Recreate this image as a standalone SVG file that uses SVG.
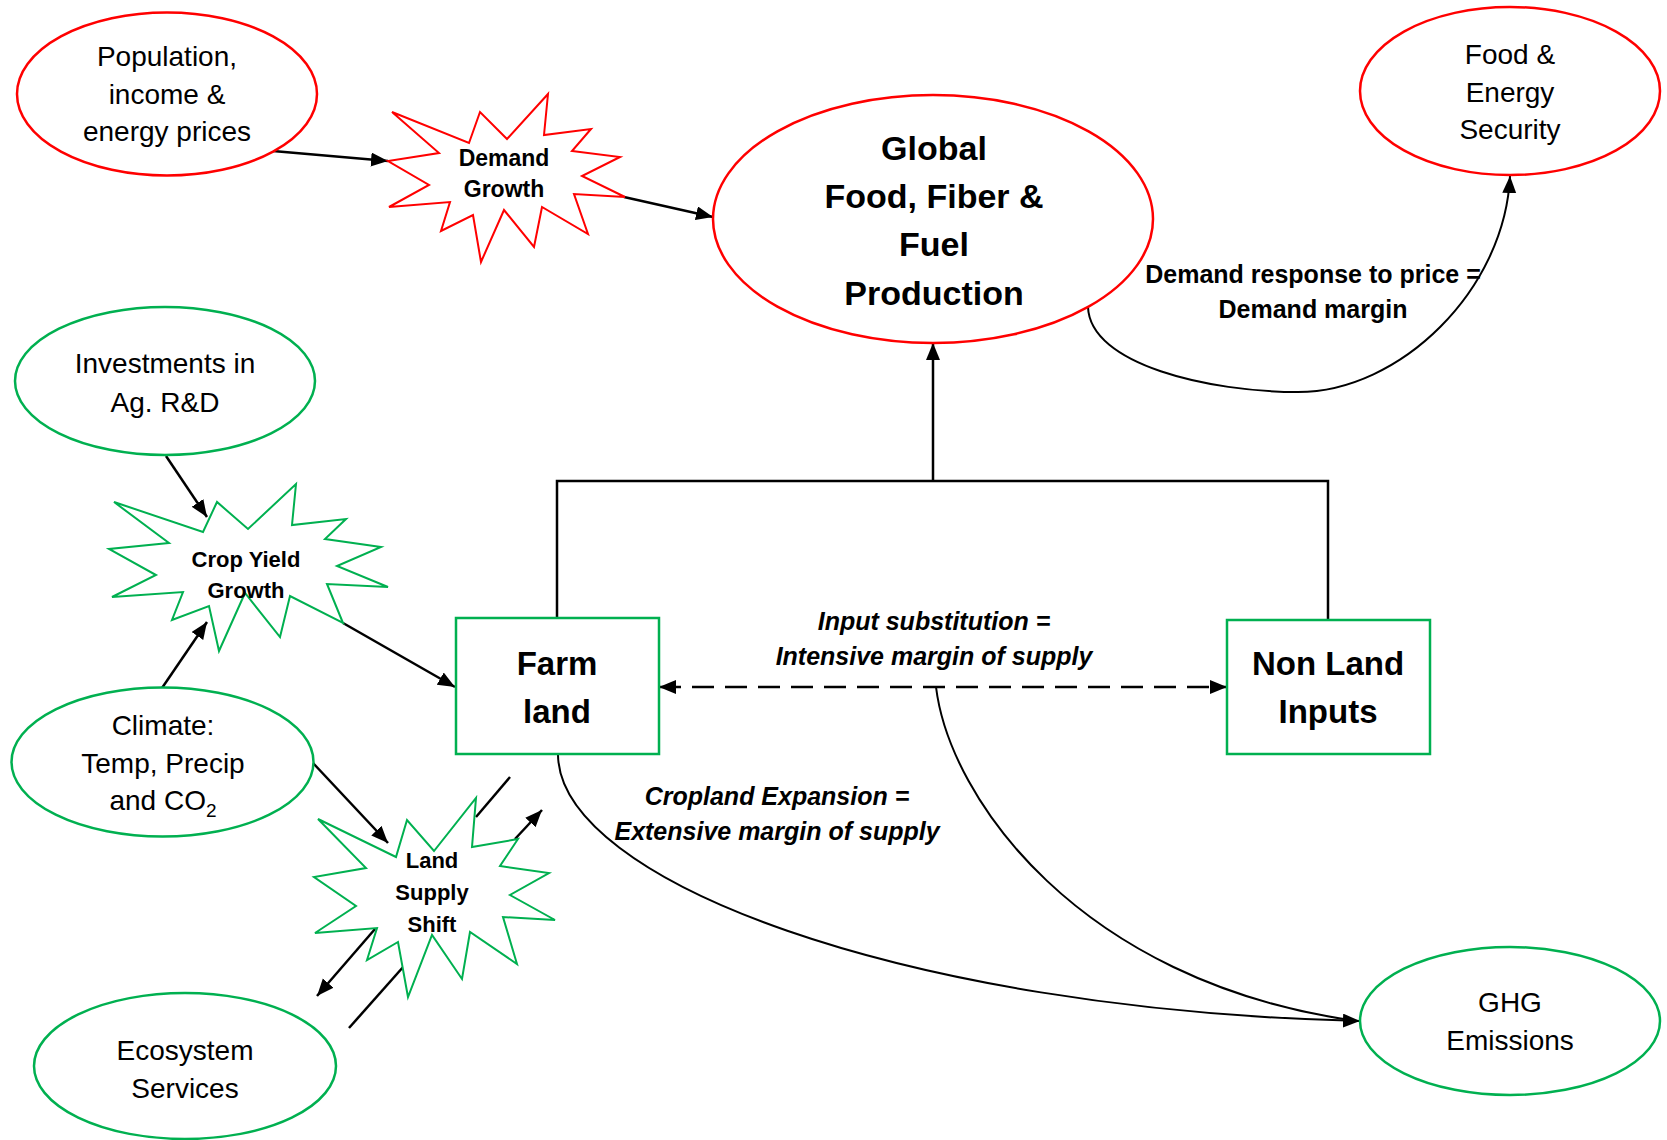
<svg xmlns="http://www.w3.org/2000/svg" width="1667" height="1140" viewBox="0 0 1667 1140">
<defs>
<marker id="arr" markerUnits="userSpaceOnUse" markerWidth="18" markerHeight="15" refX="17" refY="7" orient="auto-start-reverse">
<path d="M0,0 L17,7 L0,14 z" fill="#000"/>
</marker>
</defs>
<style>
.red{fill:#fff;stroke:#ff0000;stroke-width:2.5}
.grn{fill:#fff;stroke:#00b050;stroke-width:2.5}
.star-r{fill:#fff;stroke:#ff0000;stroke-width:2}
.star-g{fill:#fff;stroke:#00b050;stroke-width:2}
.ln{fill:none;stroke:#000;stroke-width:2.5}
.cv{fill:none;stroke:#000;stroke-width:2}
text{font-family:"Liberation Sans",Arial,sans-serif;fill:#000;text-anchor:middle}
.n{font-size:28px}
.b{font-weight:bold}
.bi{font-weight:bold;font-style:italic;font-size:25px}
</style>
<rect width="1667" height="1140" fill="#fff"/>

<g id="connectors">
<line class="ln" x1="273" y1="151" x2="388" y2="161" marker-end="url(#arr)"/>
<line class="ln" x1="624" y1="197" x2="713" y2="217" marker-end="url(#arr)"/>
<path class="ln" d="M557,618 V481 H1328 V620"/>
<line class="ln" x1="933" y1="481" x2="933" y2="343" marker-end="url(#arr)"/>
<path class="cv" d="M1088,307 C1090,365 1210,392 1298,392 C1400,392 1505,290 1510,176" marker-end="url(#arr)"/>
<line class="ln" x1="166" y1="456" x2="207" y2="517" marker-end="url(#arr)"/>
<line class="ln" x1="162" y1="688" x2="207" y2="622" marker-end="url(#arr)"/>
<line class="ln" x1="343" y1="623" x2="455" y2="687" marker-end="url(#arr)"/>
<line class="ln" x1="659" y1="687" x2="1227" y2="687" stroke-dasharray="22 11" marker-start="url(#arr)" marker-end="url(#arr)"/>
<path class="cv" d="M558,755 C560,880 900,1010 1360,1021" marker-end="url(#arr)"/>
<path class="cv" d="M936,687 C950,800 1080,980 1350,1020"/>
<line class="ln" x1="313" y1="763" x2="388" y2="843" marker-end="url(#arr)"/>
<line class="ln" x1="510" y1="777" x2="476" y2="817"/>
<line class="ln" x1="515" y1="839" x2="542" y2="810" marker-end="url(#arr)"/>
<line class="ln" x1="375" y1="929" x2="317" y2="996" marker-end="url(#arr)"/>
<line class="ln" x1="404" y1="966" x2="349" y2="1028"/>
<text class="bi" x="934" y="630">Input substitution =</text>
<text class="bi" x="934" y="665">Intensive margin of supply</text>
<text class="bi" x="777" y="805">Cropland Expansion =</text>
<text class="bi" x="777" y="840">Extensive margin of supply</text>
<text class="b" style="font-size:25px" x="1313" y="283">Demand response to price =</text>
<text class="b" style="font-size:25px" x="1313" y="318">Demand margin</text>
</g>

<g id="population">
<ellipse class="red" cx="167" cy="94" rx="150" ry="81.5"/>
<text class="n" x="167" y="66">Population,</text>
<text class="n" x="167" y="104">income &amp;</text>
<text class="n" x="167" y="141">energy prices</text>
</g>

<g id="demand-growth">
<polygon class="star-r" points="392,112 469,143 480,112 507,139 548,94 544,135 591,129 572,151 620,157 582,176 625,197 574,194 588,234 542,207 534,247 504,210 481,262 473,215 441,231 450,202 389,207 429,185 388,161 439,153"/>
<text class="b" style="font-size:23px" x="504" y="166">Demand</text>
<text class="b" style="font-size:23px" x="504" y="197">Growth</text>
</g>

<g id="global-production">
<ellipse class="red" cx="933" cy="219" rx="220" ry="124"/>
<text class="b" style="font-size:34px" x="934" y="160">Global</text>
<text class="b" style="font-size:34px" x="934" y="208">Food, Fiber &amp;</text>
<text class="b" style="font-size:34px" x="934" y="256">Fuel</text>
<text class="b" style="font-size:34px" x="934" y="305">Production</text>
</g>

<g id="food-energy-security">
<ellipse class="red" cx="1510" cy="91" rx="150" ry="84"/>
<text class="n" x="1510" y="64">Food &amp;</text>
<text class="n" x="1510" y="102">Energy</text>
<text class="n" x="1510" y="139">Security</text>
</g>

<g id="investments">
<ellipse class="grn" cx="165" cy="381" rx="150" ry="74"/>
<text class="n" x="165" y="373">Investments in</text>
<text class="n" x="165" y="412">Ag. R&amp;D</text>
</g>

<g id="crop-yield-growth">
<polygon class="star-g" points="114,502 203,532 217,502 248,529 296,484 292,525 346,519 325,539 381,547 337,566 388,587 327,584 343,623 290,596 280,637 245,593 219,651 209,606 172,620 183,592 112,597 156,575 109,549 169,543"/>
<text class="b" style="font-size:22px" x="246" y="567">Crop Yield</text>
<text class="b" style="font-size:22px" x="246" y="598">Growth</text>
</g>

<g id="climate">
<ellipse class="grn" cx="162.5" cy="762" rx="151" ry="74.5"/>
<text class="n" x="163" y="735">Climate:</text>
<text class="n" x="163" y="773">Temp, Precip</text>
<text class="n" x="163" y="810">and CO<tspan font-size="19" dy="7">2</tspan></text>
</g>

<g id="land-supply-shift">
<polygon class="star-g" points="318,819 396,857 407,820 434,851 476,798 472,847 518,839 500,866 549,873 510,895 555,920 503,917 517,964 470,932 462,979 432,935 408,997 398,942 367,960 377,928 315,933 356,906 314,877 366,868"/>
<text class="b" style="font-size:22px" x="432" y="868">Land</text>
<text class="b" style="font-size:22px" x="432" y="900">Supply</text>
<text class="b" style="font-size:22px" x="432" y="932">Shift</text>
</g>

<g id="ecosystem-services">
<ellipse class="grn" cx="185" cy="1066" rx="151" ry="73"/>
<text class="n" x="185" y="1060">Ecosystem</text>
<text class="n" x="185" y="1098">Services</text>
</g>

<g id="farm-land">
<rect class="grn" x="456" y="618" width="203" height="136"/>
<text class="b" style="font-size:33px" x="557" y="675">Farm</text>
<text class="b" style="font-size:33px" x="557" y="723">land</text>
</g>

<g id="non-land-inputs">
<rect class="grn" x="1227" y="620" width="203" height="134"/>
<text class="b" style="font-size:33px" x="1328" y="675">Non Land</text>
<text class="b" style="font-size:33px" x="1328" y="723">Inputs</text>
</g>

<g id="ghg-emissions">
<ellipse class="grn" cx="1510" cy="1021" rx="150" ry="74"/>
<text class="n" x="1510" y="1012">GHG</text>
<text class="n" x="1510" y="1050">Emissions</text>
</g>
</svg>
